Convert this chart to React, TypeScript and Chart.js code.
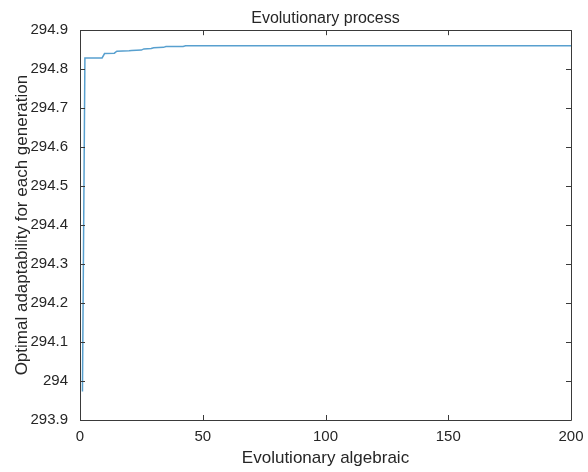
import React, { useEffect, useRef } from "react";
import { Chart, registerables } from "chart.js";

Chart.register(...registerables);

const TITLE = "Evolutionary process";
const X_TITLE = "Evolutionary algebraic";
const Y_TITLE = "Optimal adaptability for each generation";

// generation numbers where the best fitness changes (line vertices)
const generations = [1, 2, 9, 10, 14, 15, 20, 21, 25, 26, 29, 30, 34, 35, 42, 43, 200];
// best fitness at those generations
const bestFitness = [
  293.973, 294.829, 294.829, 294.84, 294.841, 294.846, 294.847, 294.848,
  294.849, 294.852, 294.853, 294.855, 294.856, 294.858, 294.858, 294.86, 294.86,
];

const X_MIN = 0;
const X_MAX = 200;
const X_STEP = 50;
const Y_MIN = 293.9;
const Y_MAX = 294.9;
const Y_STEP = 0.1;

const AXIS_COLOR = "#3a3a3a";
const TEXT_COLOR = "#262626";
const LINE_COLOR = "rgb(88,160,207)";
const FONT = "'Liberation Sans', Arial, Helvetica, sans-serif";

const boxPlugin = {
  id: "matlabBox",
  afterDatasetsDraw(chart: any) {
    const { ctx, chartArea: a, scales } = chart;
    const len = 5;
    ctx.save();
    ctx.strokeStyle = AXIS_COLOR;
    ctx.lineWidth = 1;
    ctx.beginPath();
    ctx.rect(Math.round(a.left) + 0.5, Math.round(a.top) + 0.5, Math.round(a.right - a.left), Math.round(a.bottom - a.top));
    ctx.stroke();
    ctx.beginPath();
    scales.x.ticks.forEach((t: any) => {
      const px = Math.round(scales.x.getPixelForValue(t.value)) + 0.5;
      ctx.moveTo(px, a.bottom);
      ctx.lineTo(px, a.bottom - len);
      ctx.moveTo(px, a.top);
      ctx.lineTo(px, a.top + len);
    });
    scales.y.ticks.forEach((t: any) => {
      const py = Math.round(scales.y.getPixelForValue(t.value)) + 0.5;
      ctx.moveTo(a.left, py);
      ctx.lineTo(a.left + len, py);
      ctx.moveTo(a.right, py);
      ctx.lineTo(a.right - len, py);
    });
    ctx.stroke();
    ctx.restore();
  },
};

export default function App() {
  const ref = useRef<HTMLCanvasElement>(null);
  useEffect(() => {
    if (!ref.current) return;
    const chart = new Chart(ref.current, {
      type: "line",
      data: {
        datasets: [
          {
            data: generations.map((g, i) => ({ x: g, y: bestFitness[i] })),
            borderColor: LINE_COLOR,
            borderWidth: 1.5,
            pointRadius: 0,
            tension: 0,
            fill: false,
          },
        ],
      },
      options: {
        responsive: false,
        animation: false,
        layout: { padding: { left: 0, right: 17, top: 0, bottom: 0 } },
        plugins: {
          legend: { display: false },
          tooltip: { enabled: false },
          title: {
            display: true,
            fullSize: false,
            text: TITLE,
            color: TEXT_COLOR,
            font: { family: FONT, size: 16, weight: "normal", lineHeight: 1.2 },
            padding: { top: 9, bottom: 2 },
          },
        },
        scales: {
          x: {
            type: "linear",
            min: X_MIN,
            max: X_MAX,
            grid: { display: false, drawTicks: false },
            border: { display: false },
            ticks: {
              stepSize: X_STEP,
              color: TEXT_COLOR,
              padding: 8,
              maxRotation: 0,
              font: { family: FONT, size: 15 },
            },
            title: {
              display: true,
              text: X_TITLE,
              color: TEXT_COLOR,
              font: { family: FONT, size: 17, lineHeight: 1.2 },
              padding: { top: 0, bottom: 3 },
            },
            afterFit(scale: any) {
              scale.height = 52;
              scale.paddingLeft = 0;
              scale.paddingRight = 0;
            },
          },
          y: {
            type: "linear",
            min: Y_MIN,
            max: Y_MAX,
            grid: { display: false, drawTicks: false },
            border: { display: false },
            ticks: {
              stepSize: Y_STEP,
              color: TEXT_COLOR,
              padding: 12,
              font: { family: FONT, size: 15 },
              callback: (v: any) => {
                const n = Math.round(Number(v) * 10) / 10;
                return Number.isInteger(n) ? String(n) : n.toFixed(1);
              },
            },
            title: {
              display: true,
              text: Y_TITLE,
              color: TEXT_COLOR,
              font: { family: FONT, size: 17, lineHeight: 1.2 },
              padding: { top: 12, bottom: 4 },
            },
            afterFit(scale: any) {
              scale.width = 80;
              scale.paddingTop = 0;
              scale.paddingBottom = 0;
            },
          },
        },
      },
      plugins: [boxPlugin],
    });
    return () => chart.destroy();
  }, []);
  return (
    <div style={{ position: "fixed", left: 0, top: 0, width: 588, height: 472, background: "#fff" }}>
      <canvas ref={ref} width={588} height={472} />
    </div>
  );
}
